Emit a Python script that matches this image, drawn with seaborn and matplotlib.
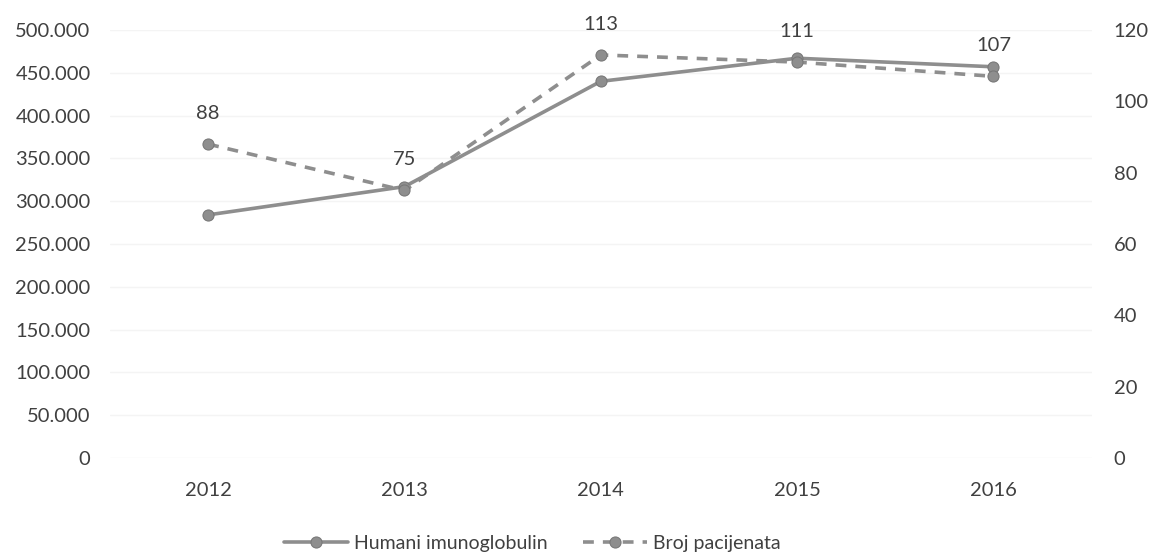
import matplotlib
matplotlib.use("Agg")
import matplotlib.pyplot as plt
import matplotlib.ticker as mticker
import pandas as pd
import seaborn as sns

# data
godine = ["2012", "2013", "2014", "2015", "2016"]
imunoglobulin = [284000, 317000, 440000, 467000, 457000]
pacijenti = [88, 75, 113, 111, 107]

df = pd.DataFrame({"Godina": godine,
                   "Humani imunoglobulin": imunoglobulin,
                   "Broj pacijenata": pacijenti})

sns.set_theme(style="white")
plt.rcParams["font.family"] = ["Lato", "DejaVu Sans"]

gray = "#8e8e8e"
txt = "#404040"
fs = 14.5

fig = plt.figure(figsize=(11.52, 5.52), dpi=100)
ax = fig.add_axes([0.0955, 0.1703, 0.852, 0.7754])
ax2 = ax.twinx()

sns.lineplot(data=df, x="Godina", y="Humani imunoglobulin", ax=ax, color=gray,
             linewidth=2.6, marker="o", markersize=8, markeredgecolor="#777777",
             label="Humani imunoglobulin", legend=False, sort=False)
sns.lineplot(data=df, x="Godina", y="Broj pacijenata", ax=ax2, color=gray,
             linewidth=2.6, linestyle=(0, (3, 2.5)), marker="o", markersize=8,
             markeredgecolor="#777777", label="Broj pacijenata", legend=False,
             sort=False)

for i, v in enumerate(pacijenti):
    ax2.annotate(str(v), (i, v), xytext=(0, 22), textcoords="offset points",
                 ha="center", va="center", fontsize=fs, color=txt)

ax.set_xlim(-0.5, len(godine) - 0.5)
ax.set_ylim(0, 500000)
ax.set_yticks(range(0, 500001, 50000))
ax.yaxis.set_major_formatter(mticker.FuncFormatter(
    lambda v, p: "0" if v == 0 else f"{int(v):,}".replace(",", ".")))
ax2.set_ylim(0, 120)
ax2.set_yticks(range(0, 121, 20))

ax.grid(axis="y", color="#f4f4f4", linewidth=1)
ax.set_axisbelow(True)
for a in (ax, ax2):
    for s in a.spines.values():
        s.set_visible(False)
    a.set_xlabel("")
    a.set_ylabel("")
    a.tick_params(length=0, labelsize=fs, colors=txt)
ax.tick_params(axis="y", pad=14)
ax2.tick_params(axis="y", pad=16)
ax.tick_params(axis="x", pad=17)

h1, l1 = ax.get_legend_handles_labels()
h2, l2 = ax2.get_legend_handles_labels()
fig.legend(h1 + h2, l1 + l2, loc="center", bbox_to_anchor=(0.462, 0.0163),
           ncol=2, frameon=False, fontsize=14, handlelength=3.3,
           handletextpad=0.3, columnspacing=1.8, labelcolor=txt,
           borderpad=0)

fig.savefig("out.png", dpi=100)
